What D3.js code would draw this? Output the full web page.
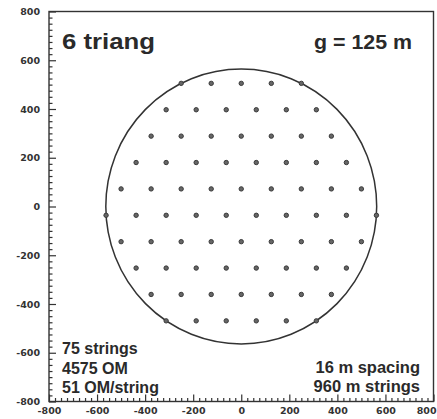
<!DOCTYPE html>
<html>
<head>
<meta charset="utf-8">
<script src="https://cdn.jsdelivr.net/npm/d3@7"></script>
<style>
  html, body { margin: 0; padding: 0; background: #fff; }
  svg { display: block; }
  .tick text { font-family: "DejaVu Sans", sans-serif; font-weight: bold; font-size: 9.5px; fill: #333; }
  .note { font-family: "Liberation Sans", Arial, sans-serif; font-weight: bold; fill: #2a2a2a; }
</style>
</head>
<body>
<script>
// String positions (metres): one y per row of the triangular grid, x list per row
const rowY = [505.2, 396.9, 288.7, 180.4, 72.2, -36.1, -144.3, -252.6, -360.8, -469.1];
const rowX = [
  [-250, -125, 0, 125, 250],
  [-312.5, -187.5, -62.5, 62.5, 187.5, 312.5],
  [-375, -250, -125, 0, 125, 250, 375],
  [-437.5, -312.5, -187.5, -62.5, 62.5, 187.5, 312.5, 437.5],
  [-500, -375, -250, -125, 0, 125, 250, 375, 500],
  [-562.5, -437.5, -312.5, -187.5, -62.5, 62.5, 187.5, 312.5, 437.5, 562.5],
  [-500, -375, -250, -125, 0, 125, 250, 375, 500],
  [-437.5, -312.5, -187.5, -62.5, 62.5, 187.5, 312.5, 437.5],
  [-375, -250, -125, 0, 125, 250, 375],
  [-312.5, -187.5, -62.5, 62.5, 187.5, 312.5]
];
// Radius of the circle through the outermost strings
const outerRadius = 563.6;

const axisTicks = [-800, -600, -400, -200, 0, 200, 400, 600, 800];
const minorTicks = d3.range(-800, 801, 25).filter(v => v % 200 !== 0);

const titleText = "6 triang";
const spacingText = "g = 125 m";
const leftNotes = ["75 strings", "4575 OM", "51 OM/string"];
const rightNotes = ["16 m spacing", "960 m strings"];

const W = 437, H = 419;
const svg = d3.select("body").append("svg").attr("width", W).attr("height", H);

const x = d3.scaleLinear().domain([-800, 800]).range([49, 433.5]);
const y = d3.scaleLinear().domain([-800, 800]).range([401.5, 11.5]);

const ink = "#333";

// frame
svg.append("rect")
  .attr("x", x(-800)).attr("y", y(800))
  .attr("width", x(800) - x(-800)).attr("height", y(-800) - y(800))
  .attr("fill", "none").attr("stroke", ink).attr("stroke-width", 1.4);

// axes with inward ticks
const yAxis = d3.axisLeft(y).tickValues(axisTicks).tickFormat(d => String(d))
  .tickSizeInner(-7).tickSizeOuter(0).tickPadding(9);
const yMinor = d3.axisLeft(y).tickValues(minorTicks).tickFormat("")
  .tickSizeInner(-3.5).tickSizeOuter(0);
const xAxis = d3.axisBottom(x).tickValues(axisTicks).tickFormat(d => String(d))
  .tickSizeInner(-7).tickSizeOuter(0).tickPadding(6);
const xMinor = d3.axisBottom(x).tickValues(minorTicks).tickFormat("")
  .tickSizeInner(-3.5).tickSizeOuter(0);

function styleAxis(g) {
  g.select(".domain").remove();
  g.selectAll(".tick line").attr("stroke", ink).attr("stroke-width", 1.2);
}
svg.append("g").attr("transform", `translate(${x(-800)},0)`).call(yAxis).call(styleAxis);
svg.append("g").attr("transform", `translate(${x(-800)},0)`).call(yMinor).call(styleAxis);
const gx = svg.append("g").attr("transform", `translate(0,${y(-800)})`).call(xAxis).call(styleAxis);
svg.append("g").attr("transform", `translate(0,${y(-800)})`).call(xMinor).call(styleAxis);

// keep the last bottom label inside the page edge
gx.selectAll(".tick").filter(d => d === 800).select("text")
  .attr("text-anchor", "end").attr("x", W - 1 - x(800));

// outer circle
svg.append("ellipse")
  .attr("cx", x(0)).attr("cy", y(0))
  .attr("rx", x(outerRadius) - x(0)).attr("ry", y(0) - y(outerRadius))
  .attr("fill", "none").attr("stroke", ink).attr("stroke-width", 1.5);

// strings
const strings = rowY.flatMap((yy, i) => rowX[i].map(xx => ({ x: xx, y: yy })));
svg.append("g").selectAll("circle").data(strings).join("circle")
  .attr("cx", d => x(d.x)).attr("cy", d => y(d.y)).attr("r", 2.2)
  .attr("fill", "#666").attr("stroke", "#3a3a3a").attr("stroke-width", 1);

// annotations
function note(text, px, py, size, len, anchor) {
  const t = svg.append("text").attr("class", "note")
    .attr("x", px).attr("y", py).attr("font-size", size)
    .attr("text-anchor", anchor || "start").text(text);
  if (len) t.attr("textLength", len).attr("lengthAdjust", "spacingAndGlyphs");
  return t;
}
note(titleText, 62, 48.5, 22, 93);
note(spacingText, 314, 49, 20, 98);
leftNotes.forEach((s, i) => note(s, 62, 354 + i * 19.5, 16));
rightNotes.forEach((s, i) => note(s, 420, 372.5 + i * 19, 16.5, null, "end"));
</script>
</body>
</html>
